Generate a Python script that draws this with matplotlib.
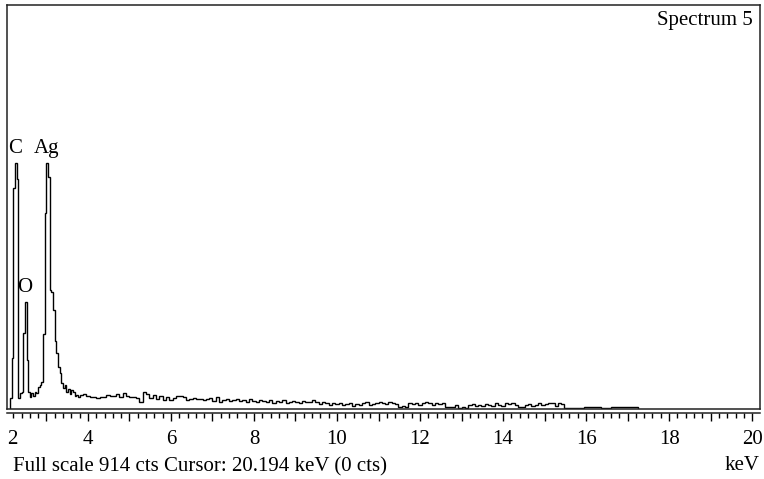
import numpy as np
import matplotlib.pyplot as plt
from matplotlib.ticker import MultipleLocator, FuncFormatter

plt.rcParams['font.family'] = ['Liberation Serif', 'DejaVu Serif']
plt.rcParams['font.size'] = 15

FULL_SCALE = 914
E_MIN, E_MAX = 2.05, 20.19

# fine channels (0.04 keV) over the C / O / Ag peaks
peak_start, peak_width = 2.12, 0.04
peak_counts = [
    25, 115, 500, 556, 520, 25, 36, 38, 172, 242,
    110, 38, 27, 36, 29, 38, 36, 50, 54, 60,
    170, 443, 556, 525, 269, 265, 224, 154, 127, 95,
    81, 59, 47, 54, 38, 45, 34, 43, 38, 29,
    32, 27,
]

# continuum, 0.08 keV channels
tail_start, tail_width = 3.80, 0.08
tail_counts = [
    32, 34, 30, 27, 27, 25, 27, 27, 32, 29, 29, 34,
    27, 36, 29, 27, 27, 25, 16, 38, 34, 25, 32, 22,
    29, 20, 27, 20, 25, 29, 29, 27, 20, 22, 25, 22,
    22, 20, 22, 25, 18, 27, 16, 20, 22, 18, 20, 22,
    18, 20, 16, 22, 18, 16, 20, 18, 16, 20, 13, 18,
    16, 20, 13, 16, 18, 16, 13, 18, 16, 16, 20, 16,
    11, 16, 13, 9, 13, 11, 13, 9, 11, 13, 7, 11,
    9, 13, 16, 9, 11, 13, 16, 13, 11, 16, 13, 11,
    5, 7, 5, 13, 11, 13, 9, 13, 16, 13, 9, 13,
    11, 13, 5, 4, 5, 9, 3, 4, 3, 9, 11, 7,
    9, 7, 11, 9, 7, 13, 9, 7, 13, 11, 13, 9,
    4, 4, 9, 11, 7, 9, 13, 9, 11, 13, 13, 7,
    13, 11, 2, 2, 2, 2, 2, 2, 5, 5, 5, 5,
    5, 2, 2, 2, 5, 5, 5, 5, 5, 5, 5, 5,
]

# element markers: (label, energy keV, counts at baseline)
peak_labels = [('C', 2.24, 580), ('Ag', 3.00, 580), ('O', 2.48, 265)]

peak_edges = peak_start + peak_width * np.arange(len(peak_counts) + 1)
tail_edges = tail_start + tail_width * np.arange(len(tail_counts) + 1)
edges = np.concatenate([peak_edges[:-1], tail_edges])
counts = np.array(peak_counts + tail_counts)

W, H = 764, 479
fig = plt.figure(figsize=(W / 100, H / 100), dpi=100)
left, right = 7 / W, 760 / W
ax = fig.add_axes([left, 1 - 409 / H, right - left, 404 / H])
ax.stairs(counts, edges, color='black', lw=1.0)
ax.set_xlim(E_MIN, E_MAX)
ax.set_ylim(0, FULL_SCALE)
ax.set_xticks([])
ax.set_yticks([])
for s in ax.spines.values():
    s.set_linewidth(1.1)
    s.set_color('#222222')

for name, e, c in peak_labels:
    ax.text(e, c, name, ha='center', va='baseline', fontsize=15)

ax.text(0.99, 0.962, 'Spectrum 5', transform=ax.transAxes,
        ha='right', va='center', fontsize=15)

# energy scale below the frame
sc = fig.add_axes([left, 1 - 413 / H, right - left, 0.0001])
sc.set_xlim(E_MIN, E_MAX)
sc.set_yticks([])
sc.patch.set_alpha(0)
for k in ('top', 'left', 'right'):
    sc.spines[k].set_visible(False)
sc.spines['bottom'].set_linewidth(1.1)
sc.spines['bottom'].set_color('#222222')
sc.xaxis.set_major_locator(MultipleLocator(1))
sc.xaxis.set_minor_locator(MultipleLocator(0.2))
sc.xaxis.set_major_formatter(
    FuncFormatter(lambda v, p: f'{v:.0f}' if round(v) % 2 == 0 else ''))
sc.tick_params(axis='x', which='major', direction='out', length=6,
               width=1.0, pad=6, labelsize=15)
sc.tick_params(axis='x', which='minor', direction='out', length=3.8, width=1.0)
sc.text(7 / W, 1 - 439 / H, '2', transform=fig.transFigure,
        ha='left', va='center', fontsize=15)

fig.text(13 / W, 1 - 467 / H, 'Full scale 914 cts Cursor: 20.194 keV (0 cts)',
         ha='left', va='center', fontsize=15)
fig.text(760 / W, 1 - 465 / H, 'keV', ha='right', va='center', fontsize=15)

fig.savefig('out.png', dpi=100)
